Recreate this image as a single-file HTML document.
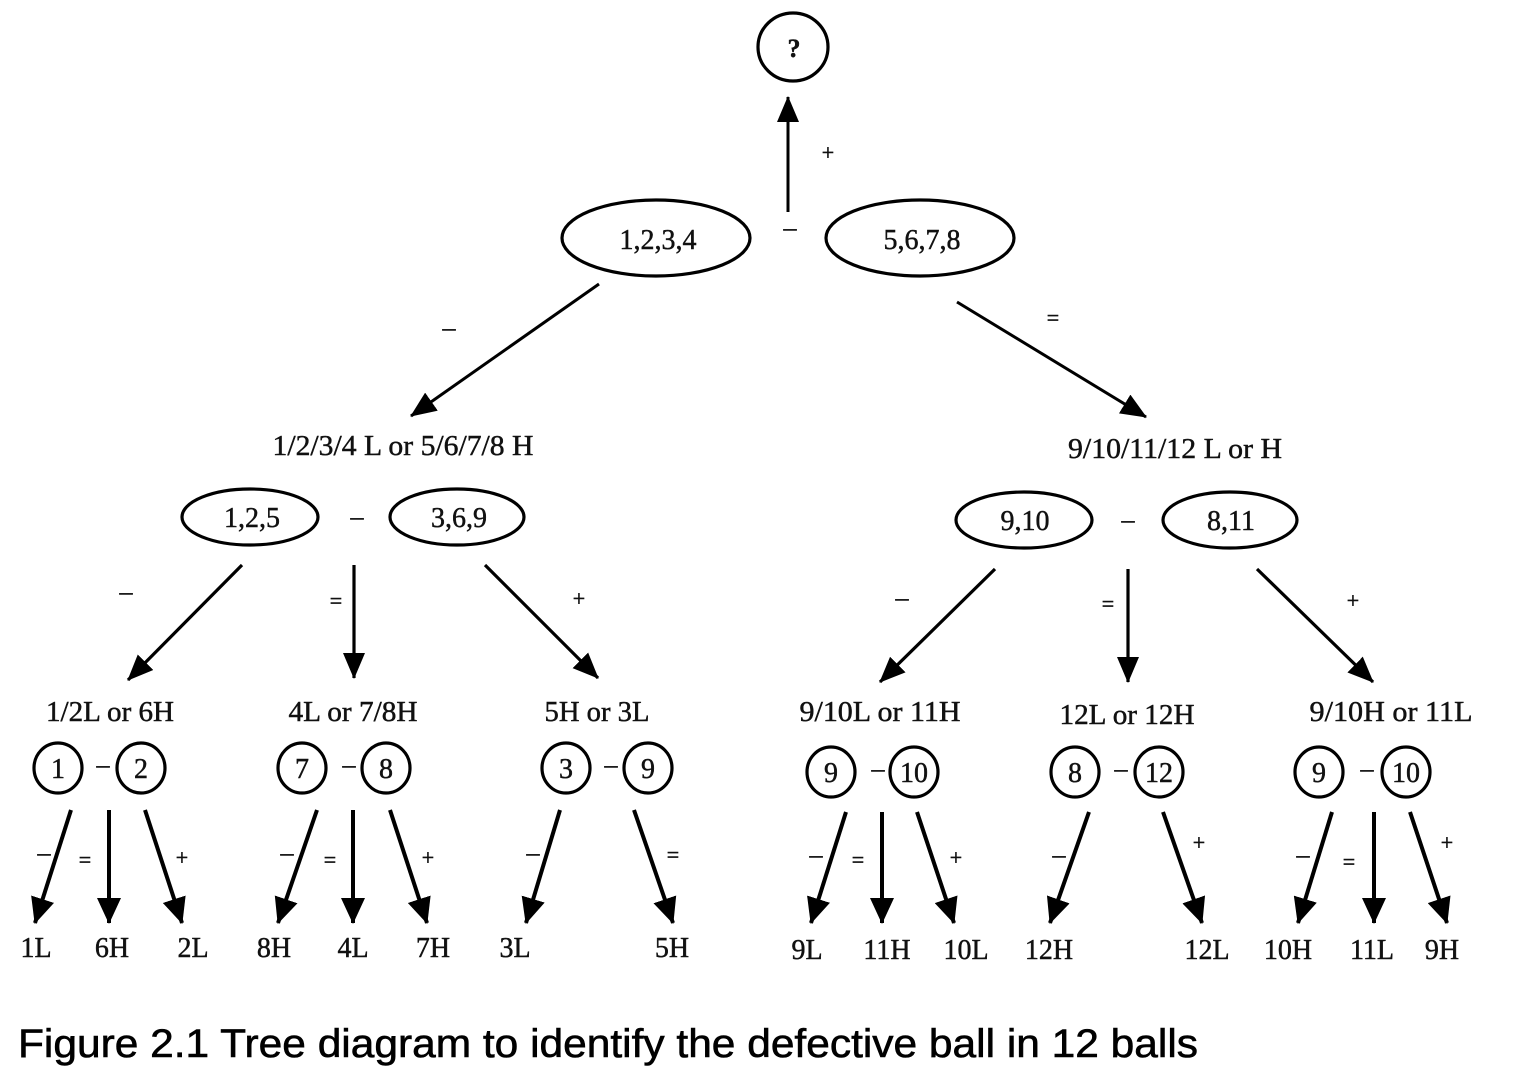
<!DOCTYPE html>
<html>
<head>
<meta charset="utf-8">
<style>
  html, body { margin:0; padding:0; background:#ffffff; }
  svg { display:block; }
  .t { font-family: "Liberation Serif", "DejaVu Serif", serif; fill:#111; stroke:#111; stroke-width:0.45; }
  .c { font-family: "Liberation Sans", Arial, sans-serif; fill:#000; stroke:#000; stroke-width:0.6; }
</style>
</head>
<body>
<svg width="1538" height="1080" viewBox="0 0 1538 1080" xmlns="http://www.w3.org/2000/svg">
  <defs>
    <marker id="ah" markerUnits="userSpaceOnUse" markerWidth="26" markerHeight="22" viewBox="0 0 26 22" refX="25" refY="11" orient="auto">
      <path d="M0,0 L26,11 L0,22 z" fill="#000"/>
    </marker>
    <marker id="ahb" markerUnits="userSpaceOnUse" markerWidth="26" markerHeight="24" viewBox="0 0 26 24" refX="25" refY="12" orient="auto">
      <path d="M0,0 L26,12 L0,24 z" fill="#000"/>
    </marker>
  </defs>

  <g fill="none" stroke="#000" stroke-width="3.2">
    <!-- top -->
    <ellipse cx="793" cy="47" rx="35" ry="34"/>
    <ellipse cx="656" cy="238" rx="94" ry="38"/>
    <ellipse cx="920" cy="238" rx="94" ry="38"/>
    <!-- level 2 -->
    <ellipse cx="250" cy="517" rx="68" ry="28"/>
    <ellipse cx="457" cy="517" rx="67" ry="28"/>
    <ellipse cx="1024" cy="520" rx="68" ry="28"/>
    <ellipse cx="1230" cy="520" rx="67" ry="28"/>
    <!-- level 3 circles -->
    <ellipse cx="58" cy="768" rx="24" ry="25"/>
    <ellipse cx="141" cy="768" rx="24" ry="25"/>
    <ellipse cx="302" cy="768" rx="24" ry="25"/>
    <ellipse cx="386" cy="768" rx="24" ry="25"/>
    <ellipse cx="566" cy="768" rx="24" ry="25"/>
    <ellipse cx="648" cy="768" rx="24" ry="25"/>
    <ellipse cx="831" cy="772" rx="24" ry="25"/>
    <ellipse cx="914" cy="772" rx="24" ry="25"/>
    <ellipse cx="1075" cy="772" rx="24" ry="25"/>
    <ellipse cx="1159" cy="772" rx="24" ry="25"/>
    <ellipse cx="1319" cy="772" rx="24" ry="25"/>
    <ellipse cx="1406" cy="772" rx="24" ry="25"/>
  </g>

  <!-- arrows level 0/1/2 -->
  <g stroke="#000" stroke-width="3" fill="none" marker-end="url(#ah)">
    <line x1="788" y1="212" x2="788" y2="97"/>
    <line x1="599" y1="284" x2="411" y2="416"/>
    <line x1="957" y1="302" x2="1146" y2="417"/>
    <line x1="242" y1="565" x2="128" y2="680" stroke-width="3.2"/>
    <line x1="354" y1="565" x2="354" y2="678" stroke-width="3.2"/>
    <line x1="485" y1="565" x2="598" y2="678" stroke-width="3.2"/>
    <line x1="995" y1="569" x2="880" y2="682" stroke-width="3.2"/>
    <line x1="1128" y1="569" x2="1128" y2="682" stroke-width="3.2"/>
    <line x1="1257" y1="569" x2="1373" y2="682" stroke-width="3.2"/>
  </g>

  <!-- arrows level 3 -->
  <g stroke="#000" stroke-width="4" fill="none" marker-end="url(#ahb)">
    <line x1="71" y1="810" x2="35" y2="923"/>
    <line x1="109" y1="810" x2="109" y2="923"/>
    <line x1="145" y1="810" x2="182" y2="923"/>
    <line x1="317" y1="810" x2="278" y2="923"/>
    <line x1="353" y1="810" x2="353" y2="923"/>
    <line x1="390" y1="810" x2="427" y2="923"/>
    <line x1="560" y1="810" x2="526" y2="923"/>
    <line x1="634" y1="810" x2="673" y2="923"/>
    <line x1="846" y1="812" x2="811" y2="923"/>
    <line x1="882" y1="812" x2="882" y2="923"/>
    <line x1="917" y1="812" x2="954" y2="923"/>
    <line x1="1089" y1="812" x2="1050" y2="923"/>
    <line x1="1163" y1="812" x2="1202" y2="923"/>
    <line x1="1332" y1="812" x2="1298" y2="923"/>
    <line x1="1374" y1="812" x2="1374" y2="923"/>
    <line x1="1410" y1="812" x2="1447" y2="923"/>
  </g>

  <!-- node text -->
  <g class="t" text-anchor="middle" font-size="28">
    <text x="794" y="57" font-weight="bold" font-size="26">?</text>
    <text x="658" y="249">1,2,3,4</text>
    <text x="922" y="249">5,6,7,8</text>
    <text x="252" y="527">1,2,5</text>
    <text x="459" y="527">3,6,9</text>
    <text x="1025" y="530">9,10</text>
    <text x="1231" y="530">8,11</text>

    <text x="58" y="778">1</text>
    <text x="141" y="778">2</text>
    <text x="302" y="778">7</text>
    <text x="386" y="778">8</text>
    <text x="566" y="778">3</text>
    <text x="648" y="778">9</text>
    <text x="831" y="782">9</text>
    <text x="914" y="782">10</text>
    <text x="1075" y="782">8</text>
    <text x="1159" y="782">12</text>
    <text x="1319" y="782">9</text>
    <text x="1406" y="782">10</text>

    <!-- level labels -->
    <text x="403" y="455" font-size="29" textLength="261" lengthAdjust="spacingAndGlyphs">1/2/3/4 L or 5/6/7/8 H</text>
    <text x="1175" y="458" font-size="29" textLength="214" lengthAdjust="spacingAndGlyphs">9/10/11/12 L or H</text>

    <text x="110" y="721" textLength="128" lengthAdjust="spacingAndGlyphs">1/2L or 6H</text>
    <text x="353" y="721" textLength="129" lengthAdjust="spacingAndGlyphs">4L or 7/8H</text>
    <text x="597" y="721" textLength="105" lengthAdjust="spacingAndGlyphs">5H or 3L</text>
    <text x="880" y="721" textLength="161" lengthAdjust="spacingAndGlyphs">9/10L or 11H</text>
    <text x="1127" y="724" textLength="135" lengthAdjust="spacingAndGlyphs">12L or 12H</text>
    <text x="1391" y="721" textLength="163" lengthAdjust="spacingAndGlyphs">9/10H or 11L</text>

    <!-- leaves -->
    <text x="36" y="957">1L</text>
    <text x="112" y="957">6H</text>
    <text x="193" y="957">2L</text>
    <text x="274" y="957">8H</text>
    <text x="353" y="957">4L</text>
    <text x="433" y="957">7H</text>
    <text x="515" y="957">3L</text>
    <text x="672" y="957">5H</text>
    <text x="807" y="959">9L</text>
    <text x="887" y="959">11H</text>
    <text x="966" y="959">10L</text>
    <text x="1049" y="959">12H</text>
    <text x="1207" y="959">12L</text>
    <text x="1288" y="959">10H</text>
    <text x="1372" y="959">11L</text>
    <text x="1442" y="959">9H</text>
  </g>

  <!-- connector signs -->
  <g class="t" text-anchor="middle" font-size="22">
    <text x="828" y="160">+</text>
    <text x="790" y="236" font-size="26">–</text>
    <text x="449" y="336" font-size="26">–</text>
    <text x="1053" y="325">=</text>

    <text x="357" y="525" font-size="26">–</text>
    <text x="1128" y="528" font-size="26">–</text>

    <text x="126" y="600" font-size="26">–</text>
    <text x="336" y="608">=</text>
    <text x="579" y="606">+</text>
    <text x="902" y="606" font-size="26">–</text>
    <text x="1108" y="611">=</text>
    <text x="1353" y="608">+</text>

    <text x="103" y="773" font-size="26">–</text>
    <text x="349" y="773" font-size="26">–</text>
    <text x="611" y="773" font-size="26">–</text>
    <text x="878" y="777" font-size="26">–</text>
    <text x="1121" y="777" font-size="26">–</text>
    <text x="1367" y="777" font-size="26">–</text>

    <text x="44" y="861" font-size="26">–</text>
    <text x="85" y="867">=</text>
    <text x="182" y="865">+</text>
    <text x="287" y="861" font-size="26">–</text>
    <text x="330" y="867">=</text>
    <text x="428" y="865">+</text>
    <text x="533" y="861" font-size="26">–</text>
    <text x="673" y="862">=</text>

    <text x="816" y="863" font-size="26">–</text>
    <text x="858" y="867">=</text>
    <text x="956" y="865">+</text>
    <text x="1059" y="863" font-size="26">–</text>
    <text x="1199" y="850">+</text>
    <text x="1303" y="863" font-size="26">–</text>
    <text x="1349" y="869">=</text>
    <text x="1447" y="850">+</text>
  </g>

  <!-- caption -->
  <text class="c" x="18" y="1057" font-size="40" textLength="1180" lengthAdjust="spacingAndGlyphs">Figure 2.1 Tree diagram to identify the defective ball in 12 balls</text>
</svg>
</body>
</html>
